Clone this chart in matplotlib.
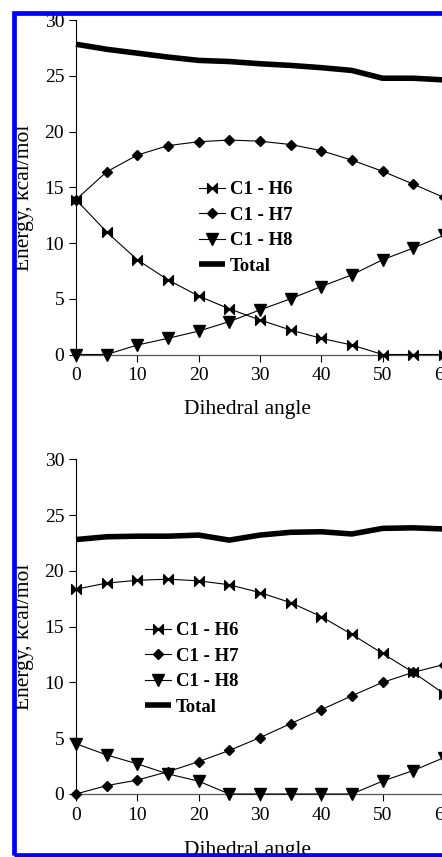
import matplotlib
matplotlib.use("Agg")
import matplotlib.pyplot as plt
from matplotlib.path import Path
from matplotlib.patches import Rectangle
import numpy as np

plt.rcParams['font.family'] = ['Liberation Serif', 'DejaVu Serif']

angles = [0, 5, 10, 15, 20, 25, 30, 35, 40, 45, 50, 55, 60]

# Top panel
top_h6 = [13.9, 11.0, 8.5, 6.7, 5.25, 4.1, 3.1, 2.2, 1.45, 0.85, 0.0, 0.0, 0.0]
top_h7 = [13.9, 16.4, 17.9, 18.75, 19.1, 19.25, 19.15, 18.85, 18.3, 17.45, 16.45, 15.3, 14.1]
top_h8 = [0.0, 0.0, 0.85, 1.45, 2.1, 2.95, 4.0, 5.0, 6.1, 7.15, 8.5, 9.55, 10.7]
top_total = [27.85, 27.4, 27.05, 26.7, 26.4, 26.3, 26.1, 25.95, 25.75, 25.5, 24.8, 24.8, 24.65]

# Bottom panel
bot_h6 = [18.35, 18.9, 19.15, 19.25, 19.1, 18.75, 18.05, 17.15, 15.9, 14.3, 12.6, 10.9, 9.0]
bot_h7 = [0.0, 0.75, 1.25, 2.0, 2.9, 3.9, 5.05, 6.3, 7.55, 8.8, 10.0, 10.9, 11.6]
bot_h8 = [4.5, 3.5, 2.7, 1.8, 1.15, 0.0, 0.0, 0.0, 0.0, 0.0, 1.15, 2.1, 3.25]
bot_total = [22.8, 23.05, 23.1, 23.1, 23.2, 22.75, 23.2, 23.45, 23.5, 23.3, 23.8, 23.85, 23.75]

series_labels = ['C1 - H6', 'C1 - H7', 'C1 - H8', 'Total']
xticks = [0, 10, 20, 30, 40, 50, 60]
yticks = [0, 5, 10, 15, 20, 25, 30]

# bowtie marker
bowtie = Path([(-1, -1), (0, 0), (-1, 1), (-1, -1),
               (1, -1), (0, 0), (1, 1), (1, -1)],
              [Path.MOVETO, Path.LINETO, Path.LINETO, Path.CLOSEPOLY,
               Path.MOVETO, Path.LINETO, Path.LINETO, Path.CLOSEPOLY])

W, H = 442, 857
fig = plt.figure(figsize=(W / 100, H / 100), dpi=100)

def make_axes(y0_px, y30_px):
    left = 76 / W
    width = (443.8 - 76) / W
    bottom = (H - y0_px) / H
    height = (y0_px - y30_px) / H
    return fig.add_axes([left, bottom, width, height])

def draw(ax, h6, h7, h8, total, leg_xy):
    l1, = ax.plot(angles, h6, color='black', lw=0.8, marker=bowtie, ms=7,
                  mfc='black', mec='black', clip_on=False, zorder=3)
    l2, = ax.plot(angles, h7, color='black', lw=0.8, marker='D', ms=5.5,
                  mfc='black', mec='black', clip_on=False, zorder=3)
    l3, = ax.plot(angles, h8, color='black', lw=0.8, marker='v', ms=8,
                  mfc='black', mec='black', clip_on=False, zorder=3)
    l4, = ax.plot(angles, total, color='black', lw=4.0, solid_capstyle='butt',
                  solid_joinstyle='round', clip_on=False, zorder=3)
    ax.set_xlim(0, 60)
    ax.set_ylim(0, 30)
    ax.set_xticks(xticks)
    ax.set_yticks(yticks)
    ax.spines['top'].set_visible(False)
    ax.spines['right'].set_visible(False)
    ax.spines['left'].set_linewidth(0.8)
    ax.spines['bottom'].set_linestyle((0, (1, 1)))
    ax.spines['bottom'].set_color('#555555')
    ax.spines['bottom'].set_linewidth(0.9)
    ax.tick_params(axis='both', direction='out', length=5, width=0.8,
                   labelsize=14, colors='black')
    ax.tick_params(axis='x', pad=4)
    ax.tick_params(axis='y', pad=3.5)
    ax.patch.set_visible(False)
    ax.legend([l1, l2, l3, l4], series_labels, loc='center left',
              bbox_to_anchor=leg_xy, bbox_transform=fig.transFigure,
              frameon=False, handlelength=1.4, handletextpad=0.25,
              labelspacing=0.45, borderpad=0, borderaxespad=0,
              prop={'weight': 'bold', 'size': 13.5})
    return ax

ax1 = make_axes(354.5, 20.3)
draw(ax1, top_h6, top_h7, top_h8, top_total, (199 / W, 1 - 228 / H))
ax2 = make_axes(794.0, 459.2)
draw(ax2, bot_h6, bot_h7, bot_h8, bot_total, (145 / W, 1 - 669 / H))

# axis labels
for yc, xl_y in [(197.5, 410), (636.5, 850)]:
    fig.text(25 / W, 1 - yc / H, 'Energy, kcal/mol', rotation=90,
             ha='center', va='center', fontsize=15.5)
    fig.text(248 / W, 1 - xl_y / H, 'Dihedral angle', ha='center',
             va='center', fontsize=15.5)

# blue frame
frame = Rectangle((14 / W, 2.5 / H), 1.2, 1 - 15 / H, transform=fig.transFigure,
                  fill=False, edgecolor='#0000ff', lw=3.4, zorder=10)
fig.add_artist(frame)

fig.savefig('out.png', dpi=100)
